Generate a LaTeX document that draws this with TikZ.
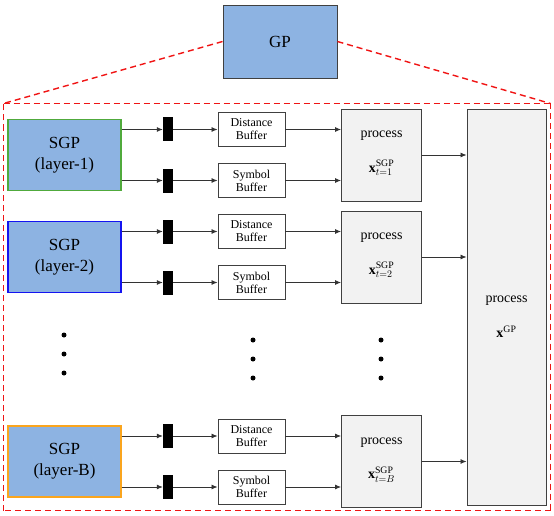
\documentclass[tikz,border=0pt]{standalone}
\usepackage{fontspec}
\setmainfont{Liberation Serif}
\usetikzlibrary{arrows.meta,positioning,calc}

\definecolor{gpblue}{RGB}{141,179,226}
\definecolor{procgray}{RGB}{242,242,242}
\definecolor{edgegray}{RGB}{64,64,64}
\definecolor{sgpgreen}{RGB}{80,170,60}
\definecolor{sgpblue}{RGB}{20,20,240}
\definecolor{sgporange}{RGB}{250,165,30}
\definecolor{framered}{RGB}{240,20,20}

\begin{document}
\begin{tikzpicture}[
    x=1pt, y=-1pt,
    sgp/.style={fill=gpblue, line width=1.1pt, minimum width=113pt, minimum height=71pt,
      inner sep=0pt, align=center, font=\rmfamily\fontsize{17}{21}\selectfont},
    buf/.style={draw=edgegray, fill=white, line width=0.9pt, minimum width=67pt, minimum height=34pt,
      inner sep=0pt, align=center, font=\rmfamily\fontsize{12}{13}\selectfont},
    bar/.style={fill=black, minimum width=10pt, minimum height=24pt, inner sep=0pt},
    proc/.style={draw=edgegray, fill=procgray, line width=0.9pt, minimum width=80pt, minimum height=92pt,
      inner sep=0pt},
    proctext/.style={inner sep=0pt, font=\rmfamily\fontsize{14}{16}\selectfont},
    arr/.style={-{Latex[length=6pt,width=5pt]}, line width=0.8pt, black!80},
    framedash/.style={draw=framered, line width=1.4pt, dash pattern=on 6pt off 4pt},
    dot/.style={circle, fill=black, minimum size=5pt, inner sep=0pt}
  ]
    \useasboundingbox (0,0) rectangle (554,516);

    % Zoomed frame
    \coordinate (frameNW) at (3.5,103.5);
    \coordinate (frameNE) at (550.5,103.5);
    \coordinate (frameSE) at (550.5,510.5);
    \coordinate (frameSW) at (3.5,510.5);
    \draw[framedash] (frameNW) -- (frameNE);
    \draw[framedash] (frameNE) -- (frameSE);
    \draw[framedash] (frameSE) -- (frameSW);
    \draw[framedash] (frameSW) -- (frameNW);

    % Global process
    \node[draw=edgegray, fill=gpblue, line width=0.9pt, minimum width=114pt, minimum height=73pt,
      font=\rmfamily\fontsize{17}{20}\selectfont] (gp) at (280,41.5) {GP};
    \draw[framedash] (gp.west) -- (frameNW);
    \draw[framedash] (gp.east) -- (frameNE);

    % Final process
    \node[proc, minimum width=79pt, minimum height=396pt] (big) at (506.5,307) {};
    \node[proctext] (bigtop) at ($(big.center)+(0,-6)$) {process};
    \node[proctext] (bigbot) at ($(big.center)+(0,25)$) {$\mathbf{x}^{\mathrm{GP}}$};

    % Layers
    \foreach \id/\yc/\col/\sub in {1/155/sgpgreen/1, 2/257/sgpblue/2, B/461.5/sgporange/B}{
      \node[sgp, draw=\col] (sgp\id) at (64.5,\yc) {SGP\\(layer-\id)};
      \node[bar] (bard\id) at (168,\yc-25.5) {};
      \node[bar] (bars\id) at (168,\yc+25.5) {};
      \node[buf] (dbuf\id) at (251.5,\yc-25.5) {Distance\\Buffer};
      \node[buf] (sbuf\id) at (251.5,\yc+25.5) {Symbol\\Buffer};
      \node[proc] (proc\id) at (381.5,\yc) {};
      \node[proctext] (ptop\id) at ($(proc\id.center)+(0,-19)$) {process};
      \node[proctext] (pbot\id) at ($(proc\id.center)+(0,13)$) {$\mathbf{x}^{\mathrm{SGP}}_{t=\sub}$};
      \draw[arr] (sgp\id.east |- bard\id) -- (bard\id);
      \draw[arr] (sgp\id.east |- bars\id) -- (bars\id);
      \draw[arr] (bard\id) -- (dbuf\id);
      \draw[arr] (bars\id) -- (sbuf\id);
      \draw[arr] (dbuf\id) -- (dbuf\id -| proc\id.west);
      \draw[arr] (sbuf\id) -- (sbuf\id -| proc\id.west);
      \draw[arr] (proc\id) -- (proc\id -| big.west);
    }

    % Vertical dots
    \foreach \xd/\ya in {64/335, 253/340, 381/340}{
      \node[dot] at (\xd,\ya) {};
      \node[dot] at (\xd,\ya+19) {};
      \node[dot] at (\xd,\ya+38) {};
    }
  \end{tikzpicture}
\end{document}
